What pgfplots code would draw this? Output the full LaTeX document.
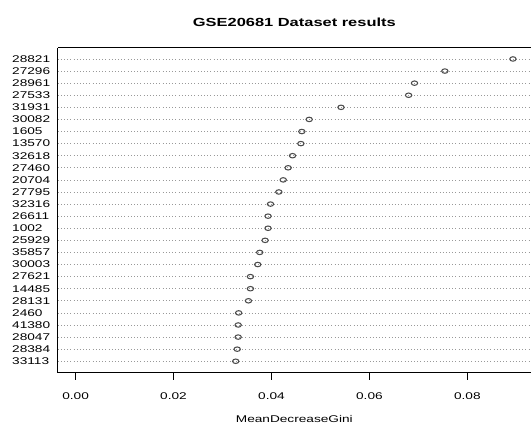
\documentclass[border=0pt]{standalone}
\usepackage{graphicx}
\usepackage{pgfplots}
\pgfplotsset{compat=1.18}
\usepackage{fontspec}
\setmainfont{Liberation Sans}
\newcommand\sq[1]{\scalebox{1}[0.715]{#1}}
\begin{document}
\begin{tikzpicture}
\begin{axis}[
  name=ax,
  scale only axis,
  width=357pt, height=245.25pt,
  xmin=-0.003655, xmax=0.09299,
  ymin=0.038, ymax=26.93,
  axis x line=box,
  axis y line=left,
  axis line style={line width=0.8pt, -},
  scaled x ticks=false,
  xtick={0,0.02,0.04,0.06,0.08},
  xticklabels={\sq{0.00},\sq{0.02},\sq{0.04},\sq{0.06},\sq{0.08}},
  xtick pos=bottom,
  tick align=outside,
  major tick length=5.25pt,
  xtick style={line width=0.8pt, black},
  xticklabel style={font=\fontsize{10.3}{12}\selectfont, anchor=center, yshift=-12pt},
  ytick={1,...,26},
  yticklabels={\sq{33113},\sq{28384},\sq{28047},\sq{41380},\sq{2460},\sq{28131},\sq{14485},\sq{27621},\sq{30003},\sq{35857},\sq{25929},\sq{1002},\sq{26611},\sq{32316},\sq{27795},\sq{20704},\sq{27460},\sq{32618},\sq{13570},\sq{1605},\sq{30082},\sq{31931},\sq{27533},\sq{28961},\sq{27296},\sq{28821}},
  ytick style={draw=none},
  yticklabel style={font=\fontsize{10.3}{12}\selectfont, anchor=west, inner sep=0pt, xshift=-29.25pt},
  ymajorgrids,
  major grid style={dotted, line width=0.5pt, black!40},
  title={\sq{\fontsize{12.4}{14}\selectfont\bfseries GSE20681 Dataset results}},
  title style={anchor=center, at={(0.5,1)}, yshift=13pt},
  xlabel={\sq{\fontsize{10.3}{12}\selectfont MeanDecreaseGini}},
  xlabel style={anchor=center, at={(0.5,0)}, yshift=-34.5pt},
]
\addplot[only marks, mark=o, mark size=2.4pt, mark options={yscale=0.7, line width=0.8pt, draw=black!70}]
coordinates {
(0.0327,1) (0.0330,2) (0.0332,3) (0.0332,4) (0.0333,5) (0.0353,6) (0.0357,7) (0.0357,8)
(0.0372,9) (0.0376,10) (0.0387,11) (0.0393,12) (0.0393,13) (0.0398,14) (0.0415,15)
(0.0424,16) (0.0434,17) (0.0443,18) (0.0460,19) (0.0462,20) (0.0477,21) (0.0542,22)
(0.0680,23) (0.0692,24) (0.0754,25) (0.0893,26)
};
\end{axis}
\pgfresetboundingbox
\path (ax.south west) ++(-43.5pt,-37.5pt) coordinate (bl);
\path (ax.north east) ++(-2.25pt,36pt) coordinate (tr);
\path[use as bounding box] (bl) rectangle (tr);
\end{tikzpicture}
\end{document}
